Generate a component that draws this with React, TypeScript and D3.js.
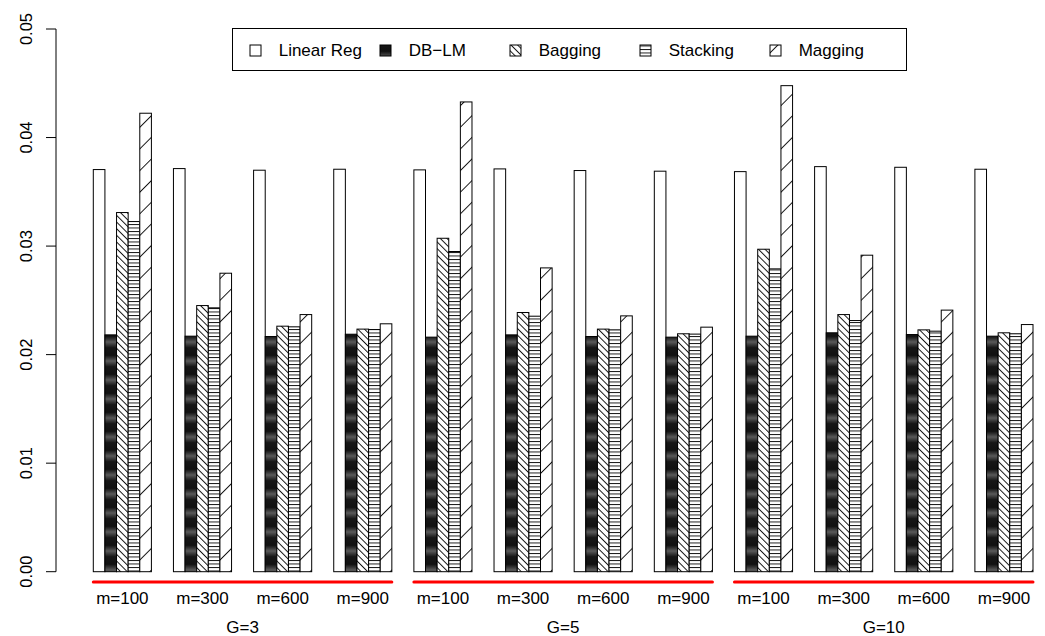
import * as d3 from 'd3';

// Grupos y etiquetas
const gLabels = ['G=3', 'G=5', 'G=10'];
const mLabels = ['m=100', 'm=300', 'm=600', 'm=900'];
const methods = ['Linear Reg', 'DB\u2212LM', 'Bagging', 'Stacking', 'Magging'];
const yTicks = [0, 0.01, 0.02, 0.03, 0.04, 0.05];

// Valores por método (12 grupos: G x m)
const linearReg = [0.03705, 0.03714, 0.03699, 0.03708, 0.03702, 0.03711, 0.03696, 0.0369, 0.03686, 0.03732, 0.03726, 0.03708];
const dbLm = [0.02182, 0.0217, 0.02167, 0.02188, 0.02161, 0.02182, 0.02167, 0.02161, 0.0217, 0.02201, 0.02185, 0.0217];
const bagging = [0.03309, 0.02452, 0.02262, 0.02235, 0.03072, 0.02388, 0.02235, 0.02192, 0.02971, 0.02369, 0.02228, 0.02201];
const stacking = [0.03226, 0.02431, 0.02256, 0.02231, 0.0295, 0.02354, 0.02228, 0.02189, 0.0279, 0.02314, 0.02216, 0.02192];
const magging = [0.04224, 0.0275, 0.02369, 0.02284, 0.04328, 0.02799, 0.02357, 0.02253, 0.04478, 0.02916, 0.0241, 0.02277];

const series = [linearReg, dbLm, bagging, stacking, magging];
const fills = ['#fff', 'url(#pDb)', 'url(#pBag)', 'url(#pStack)', 'url(#pMag)'];

const W = 1045;
const H = 636;
const font = '"Liberation Sans", Arial, Helvetica, sans-serif';

export default function App() {
  const groups = d3.range(gLabels.length * mLabels.length).map(String);
  const x = d3.scaleBand().domain(groups).range([93.3, 1033]).paddingInner(0.275).paddingOuter(0);
  const xi = d3.scaleBand().domain(methods).range([0, x.bandwidth()]).padding(0);
  const y = d3.scaleLinear().domain([0, 0.05]).range([571.7, 29]);

  const blocks = gLabels.map((g, k) => {
    const first = groups[k * mLabels.length];
    const last = groups[k * mLabels.length + mLabels.length - 1];
    const x0 = x(first)!;
    const x1 = x(last)! + x.bandwidth();
    return { g, x0, x1 };
  });

  const legendX = [250, 380, 510, 640, 770];

  return (
    <svg width={W} height={H} style={{ position: 'absolute', left: 0, top: 0, background: '#fff' }} fontFamily={font}>
      <defs>
        <linearGradient id="gDb" x1="0" y1="0" x2="0" y2="1">
          <stop offset="0" stopColor="#5a5a5a" />
          <stop offset="0.3" stopColor="#161616" />
          <stop offset="0.7" stopColor="#111" />
          <stop offset="1" stopColor="#5a5a5a" />
        </linearGradient>
        <pattern id="pDb" patternUnits="userSpaceOnUse" width="4" height="19" y="0">
          <rect width="4" height="19" fill="url(#gDb)" />
        </pattern>
        <pattern id="pBag" patternUnits="userSpaceOnUse" width="4.7" height="4.7" patternTransform="rotate(-45)">
          <rect width="4.7" height="4.7" fill="#fff" />
          <line x1="0.5" y1="0" x2="0.5" y2="4.7" stroke="#000" strokeWidth="0.9" />
        </pattern>
        <pattern id="pStack" patternUnits="userSpaceOnUse" width="6" height="3.5">
          <rect width="6" height="3.5" fill="#fff" />
          <line x1="0" y1="0.5" x2="6" y2="0.5" stroke="#000" strokeWidth="0.9" />
        </pattern>
        <pattern id="pMag" patternUnits="userSpaceOnUse" width="15.3" height="15.3" patternTransform="rotate(45)">
          <rect width="15.3" height="15.3" fill="#fff" />
          <line x1="0.5" y1="0" x2="0.5" y2="15.3" stroke="#000" strokeWidth="0.9" />
        </pattern>
      </defs>

      {/* Eje Y */}
      <g fontSize={16.5} fill="#000">
        <line x1={56} x2={56} y1={y(0)} y2={y(0.05)} stroke="#000" />
        {yTicks.map(t => (
          <g key={t}>
            <line x1={46} x2={56} y1={y(t)} y2={y(t)} stroke="#000" />
            <text transform={`translate(32,${y(t)}) rotate(-90)`} textAnchor="middle">
              {d3.format('.2f')(t)}
            </text>
          </g>
        ))}
      </g>

      {/* Barras */}
      {groups.map((gk, gi) => (
        <g key={gk} transform={`translate(${x(gk)},0)`}>
          {series.map((vals, si) => (
            <rect
              key={si}
              x={xi(methods[si])}
              y={y(vals[gi])}
              width={xi.bandwidth()}
              height={y(0) - y(vals[gi])}
              fill={fills[si]}
              stroke="#000"
              strokeWidth={1}
            />
          ))}
        </g>
      ))}

      {/* Líneas rojas y etiquetas */}
      {blocks.map(b => (
        <line key={b.g} x1={b.x0} x2={b.x1} y1={582} y2={582} stroke="#ff0000" strokeWidth={3} strokeLinecap="round" />
      ))}
      <g fontSize={17} fill="#000" textAnchor="middle">
        {groups.map((gk, gi) => (
          <text key={gk} x={x(gk)! + x.bandwidth() / 2} y={604}>{mLabels[gi % mLabels.length]}</text>
        ))}
        {blocks.map(b => (
          <text key={b.g} x={(b.x0 + b.x1) / 2} y={632.5}>{b.g}</text>
        ))}
      </g>

      {/* Leyenda */}
      <rect x={232.5} y={28.5} width={674} height={42} fill="#fff" stroke="#000" />
      <g fontSize={17} fill="#000">
        {methods.map((m, i) => (
          <g key={m}>
            <rect x={legendX[i]} y={45} width={11} height={11} fill={fills[i]} stroke="#000" />
            <text x={legendX[i] + 28.7} y={56.3}>{m}</text>
          </g>
        ))}
      </g>
    </svg>
  );
}
